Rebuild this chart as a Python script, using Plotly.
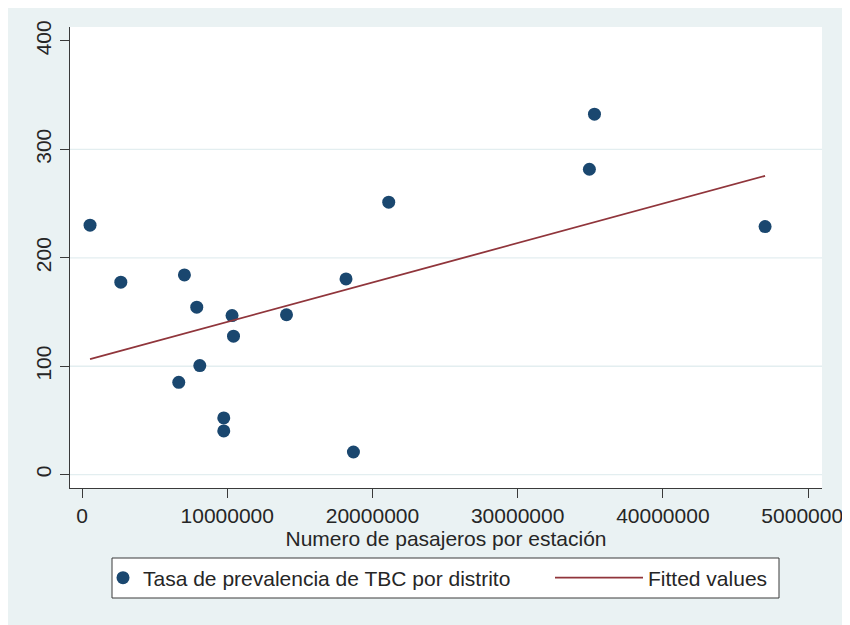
import plotly.graph_objects as go

# Data
pasajeros = [550000, 2670000, 7050000, 7900000, 10330000, 14080000, 10430000,
             8110000, 6660000, 9760000, 9760000, 18180000, 18690000, 21120000,
             34940000, 35290000, 47040000]
tasa_tbc = [230.1, 177.5, 184.2, 154.5, 146.7, 147.5, 127.7,
            100.6, 85.2, 52.3, 40.3, 180.5, 20.9, 251.3,
            281.7, 332.5, 228.8]

fit_x = [550000, 47040000]
fit_y = [106.5, 275.6]

x_ticks = [0, 10000000, 20000000, 30000000, 40000000, 50000000]
x_ticklabels = ["0", "10000000", "20000000", "30000000", "40000000", "50000000"]
y_ticks = [0, 100, 200, 300, 400]
y_grid = [0, 100, 200, 300]

name_scatter = "Tasa de prevalencia de TBC por distrito"
name_fit = "Fitted values"
x_title = "Numero de pasajeros por estación"

BG = "#eaf2f3"
GRID = "#e3eef0"
AXIS = "#3a3a3a"
TEXT = "#262626"
FONT = "Liberation Sans, Arial, sans-serif"
FS = 21

fig = go.Figure()
fig.add_trace(go.Scatter(
    x=pasajeros, y=tasa_tbc, mode="markers", name=name_scatter,
    marker=dict(color="#1a476f", size=13, line=dict(width=0)),
    legend="legend",
))
fig.add_trace(go.Scatter(
    x=fit_x, y=fit_y, mode="lines", name=name_fit,
    line=dict(color="#90353b", width=1.8),
    legend="legend2",
))

# page is offset by 8px (body margin); figure coordinates = page - 8
W, H = 835, 617
L, R, T, B = 62, 21, 19, 137
pw, ph = W - L - R, H - T - B

def px_to_paper_x(px):
    return (px - L) / pw

def px_to_paper_y(py):
    return (H - B - py) / ph

shapes = [
    dict(type="rect", xref="paper", yref="paper",
         x0=0, x1=1, y0=0, y1=1,
         fillcolor="white", line=dict(width=0), layer="below"),
    # legend frame
    dict(type="rect", xref="paper", yref="paper",
         x0=px_to_paper_x(104), x1=px_to_paper_x(771),
         y0=px_to_paper_y(590), y1=px_to_paper_y(550),
         fillcolor="white", line=dict(color=AXIS, width=1), layer="below"),
]
for g in y_grid:
    shapes.append(dict(type="line", xref="paper", yref="y",
                       x0=0, x1=1, y0=g, y1=g,
                       line=dict(color=GRID, width=1.3), layer="below"))

legend_common = dict(
    orientation="h", yanchor="middle", y=px_to_paper_y(570),
    xanchor="left", bgcolor="rgba(0,0,0,0)", borderwidth=0,
    font=dict(family=FONT, size=FS, color=TEXT),
)

fig.update_layout(
    width=W, height=H,
    margin=dict(l=L, r=R, t=T, b=B, autoexpand=False),
    paper_bgcolor=BG,
    plot_bgcolor="white",
    font=dict(family=FONT, size=FS, color=TEXT),
    shapes=shapes,
    showlegend=True,
    legend=dict(x=px_to_paper_x(95), itemwidth=30, **legend_common),
    legend2=dict(x=px_to_paper_x(542), itemwidth=88, **legend_common),
    xaxis=dict(
        range=[-830000, 50960000],
        tickvals=x_ticks, ticktext=x_ticklabels,
        showgrid=False, zeroline=False,
        showline=True, linecolor=AXIS, linewidth=1.3,
        ticks="outside", ticklen=9, tickcolor=AXIS, tickwidth=1.3,
        ticklabeloverflow="allow",
        title=dict(text=x_title, standoff=1, font=dict(size=FS, color=TEXT)),
    ),
    yaxis=dict(
        range=[-12.3, 412.9],
        tickvals=y_ticks,
        showgrid=False, zeroline=False,
        showline=True, linecolor=AXIS, linewidth=1.3,
        ticks="outside", ticklen=9, tickcolor=AXIS, tickwidth=1.3,
        tickangle=-90,
    ),
)

fig.write_html("out.html")
